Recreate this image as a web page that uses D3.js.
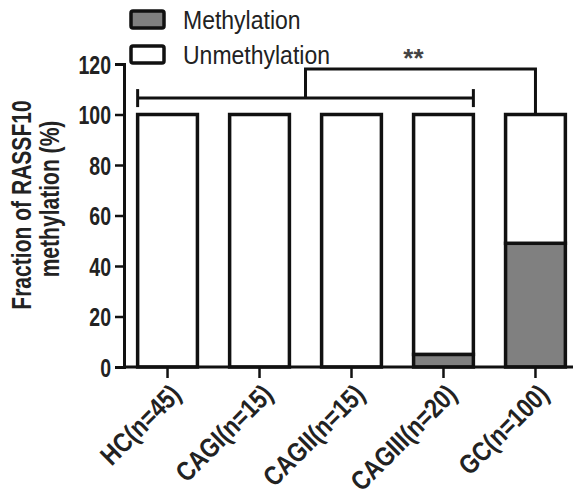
<!DOCTYPE html>
<html>
<head>
<meta charset="utf-8">
<script src="https://cdn.jsdelivr.net/npm/d3@7"></script>
<style>
  body { margin: 0; background: #fff; }
  svg { display: block; font-family: "Liberation Sans", Arial, sans-serif; }
</style>
</head>
<body>
<svg id="chart" width="573" height="496"></svg>
<script>
// data
var groups = ["HC(n=45)", "CAGI(n=15)", "CAGII(n=15)", "CAGIII(n=20)", "GC(n=100)"];
var methylation = [0, 0, 0, 5, 49];
var unmethylation = [100, 100, 100, 95, 51];
var yTicks = [0, 20, 40, 60, 80, 100, 120];
var seriesNames = ["Methylation", "Unmethylation"];
var seriesColors = ["#808080", "#ffffff"];
// significance brackets (y in data units)
var lowerBracket = {from: 0, to: 3, level: 106.5};
var upperBracket = {level: 118, label: "**"};

var svg = d3.select("#chart");
var font = "Liberation Sans, Arial, sans-serif";

var x = d3.scaleBand()
    .domain(groups)
    .range([122, 581])
    .paddingInner(0.35)
    .paddingOuter(0.17);

var y = d3.scaleLinear()
    .domain([0, 120])
    .range([367, 64]);

// stacked bars: methylation at bottom, unmethylation on top
var rows = groups.map(function(g, i) {
    return {group: g, Methylation: methylation[i], Unmethylation: unmethylation[i]};
});
var stack = d3.stack().keys(seriesNames)(rows);

svg.append("g").selectAll("g")
    .data(stack)
    .enter().append("g")
    .attr("fill", function(d, i) { return seriesColors[i]; })
    .selectAll("rect")
    .data(function(d) { return d.filter(function(e) { return e[1] - e[0] > 0; }); })
    .enter().append("rect")
    .attr("x", function(d) { return x(d.data.group); })
    .attr("y", function(d) { return y(d[1]); })
    .attr("width", x.bandwidth())
    .attr("height", function(d) { return y(d[0]) - y(d[1]); })
    .attr("stroke", "#111")
    .attr("stroke-width", 3.5);

// y axis
var yAxis = svg.append("g")
    .attr("transform", "translate(124,0)")
    .call(d3.axisLeft(y).tickValues(yTicks).tickSize(9));
yAxis.select(".domain").attr("stroke-width", 3).attr("stroke", "#111");
yAxis.selectAll(".tick line").attr("stroke-width", 2.5).attr("stroke", "#111");
yAxis.selectAll(".tick text")
    .attr("font-size", 25).attr("font-weight", "bold").attr("fill", "#222")
    .attr("font-family", font)
    .attr("x", 0).attr("dy", "0.36em")
    .attr("transform", "translate(-13,0) scale(0.78,1)");

// x axis
var xAxis = svg.append("g")
    .attr("transform", "translate(0,367)")
    .call(d3.axisBottom(x).tickSize(11).tickSizeOuter(0));
xAxis.select(".domain").attr("stroke-width", 3).attr("stroke", "#111")
    .attr("d", "M124,0H573");
xAxis.selectAll(".tick line").attr("stroke-width", 2.5).attr("stroke", "#111");
xAxis.selectAll(".tick text")
    .attr("font-size", 27).attr("font-weight", "bold").attr("fill", "#222")
    .attr("font-family", font)
    .attr("text-anchor", "end")
    .attr("dy", "0.36em")
    .attr("transform", "translate(8,22) rotate(-45) scale(0.84,1)")
    .attr("x", 0).attr("y", 0);

// y axis title
var titleLines = ["Fraction of RASSF10", "methylation (%)"];
svg.append("g").selectAll("text")
    .data(titleLines)
    .enter().append("text")
    .attr("transform", function(d, i) {
        return "translate(" + (i ? 59 : 31) + "," + (i ? 199 : 205) + ") rotate(-90) scale(0.78,1)";
    })
    .attr("text-anchor", "middle")
    .attr("font-size", 27).attr("font-weight", "bold").attr("fill", "#222")
    .text(function(d) { return d; });

// brackets
var br = svg.append("g").attr("stroke", "#111").attr("stroke-width", 3).attr("fill", "none");
var lx1 = x(groups[lowerBracket.from]), lx2 = x(groups[lowerBracket.to]) + x.bandwidth();
var ly = y(lowerBracket.level);
br.append("line").attr("x1", lx1).attr("x2", lx2).attr("y1", ly).attr("y2", ly);
br.append("line").attr("x1", lx1).attr("x2", lx1).attr("y1", ly - 9).attr("y2", ly + 9);
br.append("line").attr("x1", lx2).attr("x2", lx2).attr("y1", ly - 9).attr("y2", ly + 9);

var ux1 = (lx1 + lx2) / 2;
var ux2 = x(groups[4]) + x.bandwidth() / 2;
var uy = y(upperBracket.level);
br.append("path")
    .attr("d", "M" + ux1 + "," + ly + "V" + uy + "H" + ux2 + "V" + y(unmethylation[4] + methylation[4]));

svg.append("text")
    .attr("x", (ux1 + ux2) / 2 - 7).attr("y", uy - 2)
    .attr("text-anchor", "middle")
    .attr("font-size", 26).attr("font-weight", "bold").attr("fill", "#444")
    .text(upperBracket.label);

// legend
var legend = svg.append("g").selectAll("g")
    .data(seriesNames)
    .enter().append("g")
    .attr("transform", function(d, i) { return "translate(131," + (11 + i * 35) + ")"; });
legend.append("rect")
    .attr("width", 33).attr("height", 17).attr("rx", 2)
    .attr("fill", function(d, i) { return seriesColors[i]; })
    .attr("stroke", "#111").attr("stroke-width", 3.5);
legend.append("text")
    .attr("transform", "translate(52,9) scale(0.92,1)")
    .attr("dy", "0.36em")
    .attr("font-size", 25).attr("fill", "#222")
    .text(function(d) { return d; });
</script>
</body>
</html>
